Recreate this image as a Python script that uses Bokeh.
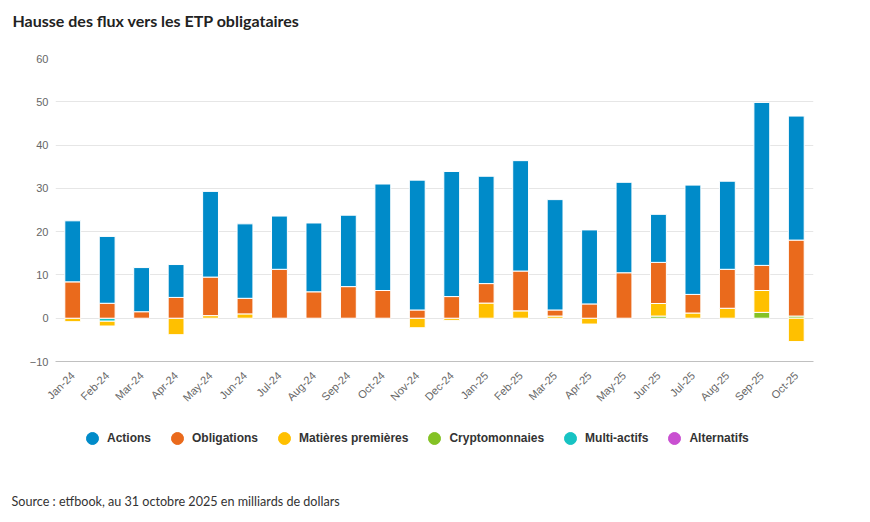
from bokeh.plotting import figure
from bokeh.layouts import column
from bokeh.models import ColumnDataSource, Legend, LegendItem, Label, FixedTicker, Range1d
from bokeh.embed import file_html
from bokeh.resources import INLINE

months = ["Jan-24", "Feb-24", "Mar-24", "Apr-24", "May-24", "Jun-24", "Jul-24", "Aug-24",
          "Sep-24", "Oct-24", "Nov-24", "Dec-24", "Jan-25", "Feb-25", "Mar-25", "Apr-25",
          "May-25", "Jun-25", "Jul-25", "Aug-25", "Sep-25", "Oct-25"]

actions = [14.1, 15.45, 10.2, 7.6, 19.8, 17.2, 12.3, 15.9, 16.5, 24.6, 30.0, 28.9,
           24.8, 25.5, 25.5, 17.1, 20.9, 11.1, 25.25, 20.35, 37.65, 28.65]
obligations = [8.4, 3.45, 1.5, 4.8, 8.9, 3.6, 11.3, 6.1, 7.3, 6.4, 1.9, 5.0,
               4.5, 9.2, 1.4, 3.3, 10.5, 9.5, 4.3, 9.0, 5.8, 17.55]
matieres = [-0.8, -1.1, 0.0, -3.8, 0.6, 1.0, 0.0, 0.0, 0.0, 0.0, -2.2, -0.5,
            3.5, 1.7, 0.5, -1.35, 0.0, 2.9, 1.2, 2.3, 5.05, -5.4]
crypto = [0.0, 0.0, 0.0, 0.0, 0.0, 0.0, 0.0, 0.0, 0.0, 0.0, 0.0, 0.0,
          0.0, 0.0, 0.0, 0.0, 0.0, 0.5, 0.0, 0.0, 1.35, 0.5]
multi = [0.0, -0.7, 0.0, 0.0, 0.0, 0.0, 0.0, 0.0, 0.0, 0.0, 0.0, 0.0,
         0.0, 0.0, 0.0, 0.0, 0.0, 0.0, 0.0, 0.0, 0.0, 0.0]
alternatifs = [0.0] * 22

series_names = ["Actions", "Obligations", "Matières premières", "Cryptomonnaies", "Multi-actifs", "Alternatifs"]
series_values = [actions, obligations, matieres, crypto, multi, alternatifs]
series_colors = ["#008bc9", "#ea6a1c", "#ffc000", "#84c225", "#17c3c3", "#c94fd1"]

y_ticks = [-10, 0, 10, 20, 30, 40, 50, 60]

title_text = "Hausse des flux vers les ETP obligataires"
source_text = "Source : etfbook, au 31 octobre 2025 en milliards de dollars"

TICK_FONT = "Liberation Sans"
W = 854


def blank(h):
    f = figure(width=W, height=h, output_backend="svg", toolbar_location=None,
               x_range=Range1d(0, 1), y_range=Range1d(0, 1),
               min_border=0, min_border_left=0, min_border_right=0,
               min_border_top=0, min_border_bottom=0)
    f.axis.visible = False
    f.grid.visible = False
    f.outline_line_color = None
    f.background_fill_color = "white"
    f.border_fill_color = "white"
    f.frame_align = False
    return f


# ---- header (title) ----
head = blank(54)
head.add_layout(Label(text=title_text, x=12, y=34, x_units="screen", y_units="screen",
                      text_font="Lato", text_font_style="bold", text_font_size="16px",
                      text_color="#222222", text_baseline="alphabetic"))

# ---- main chart ----
p = figure(x_range=months, y_range=(-10, 60), width=W, height=356,
           output_backend="svg", toolbar_location=None,
           min_border_left=55, min_border_right=41, min_border_top=4, min_border_bottom=42)
p.frame_align = False
p.outline_line_color = None
p.background_fill_color = "white"
p.border_fill_color = "white"

n = len(months)
pos_base = [0.0] * n
neg_base = [0.0] * n
for name, vals, col in reversed(list(zip(series_names, series_values, series_colors))):
    xs, bottoms, tops = [], [], []
    for i, v in enumerate(vals):
        if v == 0:
            continue
        if v > 0:
            b, t = pos_base[i], pos_base[i] + v
            pos_base[i] = t
        else:
            b, t = neg_base[i] + v, neg_base[i]
            neg_base[i] = b
        xs.append(months[i]); bottoms.append(b); tops.append(t)
    src = ColumnDataSource(dict(x=xs, bottom=bottoms, top=tops))
    p.vbar(x="x", bottom="bottom", top="top", width=0.46, source=src,
           fill_color=col, line_color="white", line_width=1)

p.yaxis.ticker = FixedTicker(ticks=y_ticks)
p.yaxis.axis_line_color = None
p.yaxis.major_tick_line_color = None
p.yaxis.minor_tick_line_color = None
p.yaxis.major_tick_out = 0
p.yaxis.major_label_standoff = 7
p.yaxis.major_label_text_font = TICK_FONT
p.yaxis.major_label_text_font_size = "11px"
p.yaxis.major_label_text_color = "#666666"

p.xaxis.axis_line_color = "#c0c0c0"
p.xaxis.major_tick_line_color = None
p.xaxis.minor_tick_line_color = None
p.xaxis.major_label_orientation = 0.785398
p.xaxis.major_label_standoff = 6
p.xaxis.major_label_text_font = TICK_FONT
p.xaxis.major_label_text_font_size = "11px"
p.xaxis.major_label_text_color = "#666666"

p.xgrid.grid_line_color = None
p.ygrid.grid_line_color = "#e6e6e6"
p.ygrid.ticker = FixedTicker(ticks=y_ticks)
p.x_range.range_padding = 0

# ---- footer (legend + source) ----
foot = blank(100)
items = []
for name, vals, col in zip(series_names, series_values, series_colors):
    lsrc = ColumnDataSource(dict(x=list(range(n)), y=vals))
    r = foot.scatter(x="x", y="y", source=lsrc, marker="circle", size=12,
                     fill_color=col, line_color=col)
    r.visible = False
    items.append(LegendItem(label=name, renderers=[r]))

legend = Legend(items=items, orientation="horizontal", location=(77, 57),
                glyph_width=30, glyph_height=30, label_standoff=0, spacing=11,
                padding=0, margin=0, border_line_color=None, background_fill_alpha=0,
                inactive_fill_alpha=0,
                label_text_font=TICK_FONT, label_text_font_style="bold",
                label_text_font_size="12px", label_text_color="#333333")
foot.add_layout(legend, "center")
foot.add_layout(Label(text=source_text, x=11, y=9, x_units="screen", y_units="screen",
                      text_font="Lato", text_font_size="12.6px", text_color="#333333",
                      text_baseline="alphabetic"))

layout = column(head, p, foot, spacing=0)
open("out.html", "w").write(file_html(layout, INLINE))
